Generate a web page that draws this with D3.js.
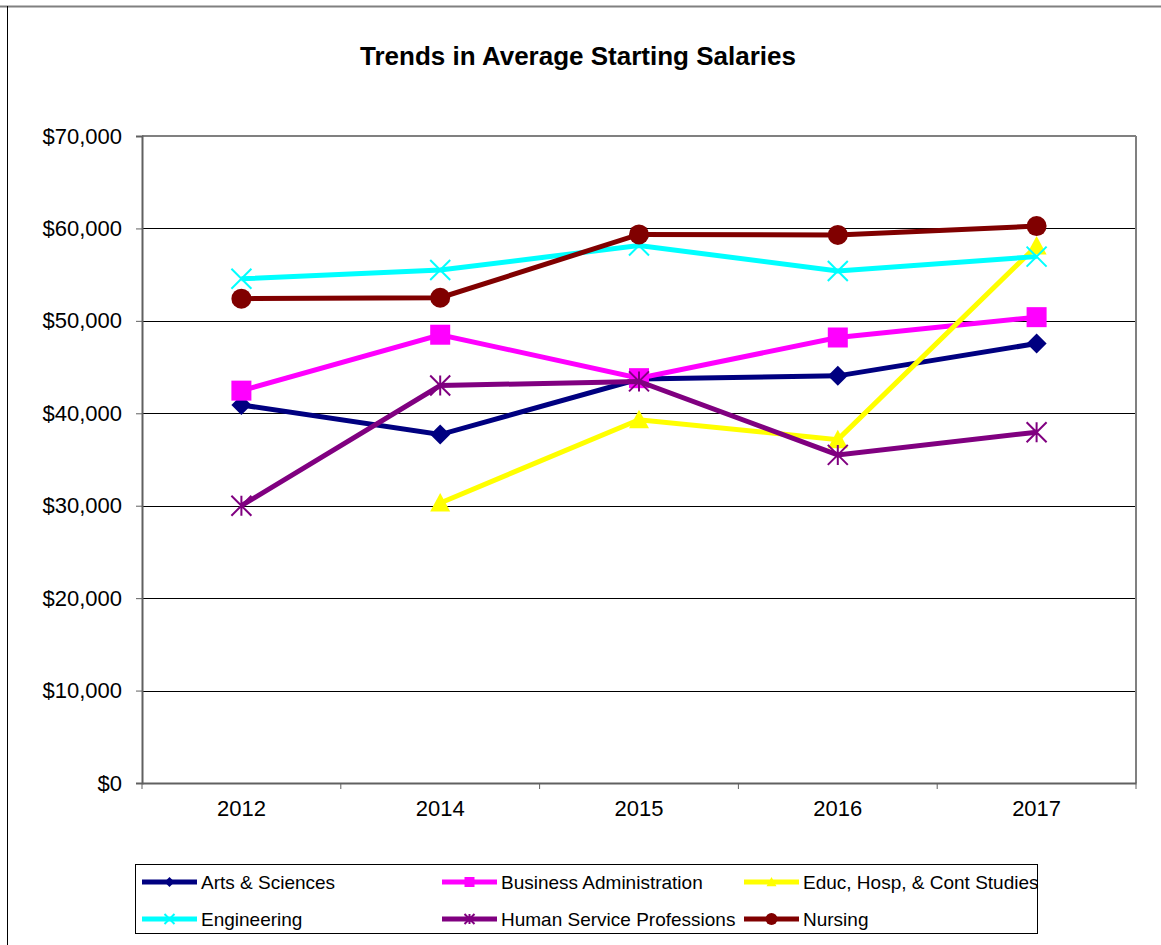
<!DOCTYPE html>
<html>
<head>
<meta charset="utf-8">
<script src="https://cdn.jsdelivr.net/npm/d3@7"></script>
<style>
  body { margin: 0; background: #fff; }
  text { font-family: "Liberation Sans", Arial, sans-serif; }
</style>
</head>
<body>
<div id="chart"></div>
<script>
// chart data
var years = ["2012", "2014", "2015", "2016", "2017"];
var seriesNames = ["Arts & Sciences", "Business Administration", "Educ, Hosp, & Cont Studies",
                   "Engineering", "Human Service Professions", "Nursing"];
var artsSciences = [40900, 37700, 43700, 44050, 47550];
var businessAdmin = [42450, 48500, 43800, 48200, 50400];
var educHosp = [null, 30300, 39300, 37150, 58100];
var engineering = [54550, 55500, 58150, 55400, 56950];
var humanService = [30000, 43000, 43450, 35500, 37950];
var nursing = [52400, 52500, 59350, 59300, 60250];
var yTicks = [0, 10000, 20000, 30000, 40000, 50000, 60000, 70000];

var colors = ["#000080", "#ff00ff", "#ffff00", "#00ffff", "#800080", "#800000"];
var shapes = ["diamond", "square", "triangle", "x", "star", "circle"];
var allValues = [artsSciences, businessAdmin, educHosp, engineering, humanService, nursing];

var series = seriesNames.map(function(name, i) {
    return {name: name, color: colors[i], shape: shapes[i],
            values: allValues[i].map(function(v, j) { return {year: years[j], v: v}; })};
});

var W = 1161, H = 945;
var margin = {top: 136, right: 25, bottom: 162, left: 142};
var width = W - margin.left - margin.right,
    height = H - margin.top - margin.bottom;

var svg = d3.select("#chart").append("svg")
    .attr("width", W)
    .attr("height", H);

// outer frame (top and left edges only visible)
svg.append("line").attr("x1", 0).attr("x2", W).attr("y1", 6.5).attr("y2", 6.5)
    .attr("stroke", "#808080").attr("stroke-width", 2);
svg.append("line").attr("x1", 7.5).attr("x2", 7.5).attr("y1", 6).attr("y2", H)
    .attr("stroke", "#000").attr("stroke-width", 1);

svg.append("text")
    .attr("x", 578).attr("y", 65)
    .attr("text-anchor", "middle")
    .attr("font-size", "26px")
    .attr("font-weight", "bold")
    .text("Trends in Average Starting Salaries");

var g = svg.append("g")
    .attr("transform", "translate(" + margin.left + "," + margin.top + ")");

var xBand = d3.scaleBand().domain(years).range([0, width]);
var x = function(d) { return xBand(d) + xBand.bandwidth() / 2; };
var y = d3.scaleLinear().domain([0, 70000]).range([height, 0]);

// gridlines
g.selectAll(".grid").data(yTicks.filter(function(t) { return t > 0 && t < 70000; }))
    .enter().append("line")
    .attr("x1", 0).attr("x2", width)
    .attr("y1", function(d) { return Math.round(y(d)) + 0.5; })
    .attr("y2", function(d) { return Math.round(y(d)) + 0.5; })
    .attr("stroke", "#000").attr("stroke-width", 1);

// plot border top/right
g.append("line").attr("x1", 0).attr("x2", width).attr("y1", 0).attr("y2", 0)
    .attr("stroke", "#808080").attr("stroke-width", 2);
g.append("line").attr("x1", width).attr("x2", width).attr("y1", 0).attr("y2", height)
    .attr("stroke", "#808080").attr("stroke-width", 2);

// y axis
var yAxis = g.append("g")
    .call(d3.axisLeft(y).tickValues(yTicks).tickSize(6).tickPadding(14)
        .tickFormat(function(d) { return "$" + d3.format(",")(d); }));
yAxis.select(".domain").attr("stroke", "#606060").attr("stroke-width", 2);
yAxis.selectAll(".tick line").attr("stroke", "#606060");
yAxis.selectAll("text").attr("font-size", "22px").attr("fill", "#000")
    .attr("font-family", "'Liberation Sans', Arial, sans-serif");

// x axis with ticks between categories
var xAxis = g.append("g")
    .attr("transform", "translate(0," + height + ")")
    .call(d3.axisBottom(xBand).tickSize(0).tickPadding(17));
xAxis.select(".domain").attr("stroke", "#606060").attr("stroke-width", 2);
xAxis.selectAll("text").attr("font-size", "22px").attr("fill", "#000")
    .attr("font-family", "'Liberation Sans', Arial, sans-serif");
var bounds = years.map(function(d) { return xBand(d); }).concat([width]);
xAxis.selectAll(".sep").data(bounds).enter().append("line")
    .attr("x1", function(d) { return d; }).attr("x2", function(d) { return d; })
    .attr("y1", 0).attr("y2", 6)
    .attr("stroke", "#606060").attr("stroke-width", 1);

// marker drawing
function drawMarker(sel, shape, color, s) {
    if (shape === "diamond") {
        sel.append("path").attr("d", "M0,-" + s + "L" + s + ",0L0," + s + "L-" + s + ",0Z").attr("fill", color);
    } else if (shape === "square") {
        sel.append("rect").attr("x", -s).attr("y", -s).attr("width", 2 * s).attr("height", 2 * s).attr("fill", color);
    } else if (shape === "triangle") {
        sel.append("path").attr("d", "M0,-" + s + "L" + s + "," + (s * 0.85) + "L-" + s + "," + (s * 0.85) + "Z").attr("fill", color);
    } else if (shape === "circle") {
        sel.append("circle").attr("r", s).attr("fill", color);
    } else if (shape === "x") {
        sel.append("path").attr("d", "M-" + s + ",-" + s + "L" + s + "," + s + "M-" + s + "," + s + "L" + s + ",-" + s)
            .attr("stroke", color).attr("stroke-width", 2).attr("fill", "none");
    } else if (shape === "star") {
        sel.append("path").attr("d", "M-" + s + ",-" + s + "L" + s + "," + s + "M-" + s + "," + s + "L" + s + ",-" + s + "M0,-" + s + "L0," + s)
            .attr("stroke", color).attr("stroke-width", 2).attr("fill", "none");
    }
}
var markerSize = {diamond: 10, square: 10, triangle: 10, circle: 10, x: 10, star: 10};

var line = d3.line()
    .defined(function(d) { return d.v !== null; })
    .x(function(d) { return x(d.year); })
    .y(function(d) { return y(d.v); });

series.forEach(function(s) {
    var sg = g.append("g");
    sg.append("path")
        .datum(s.values)
        .attr("fill", "none")
        .attr("stroke", s.color)
        .attr("stroke-width", 5)
        .attr("d", line);
    sg.selectAll(".pt").data(s.values.filter(function(d) { return d.v !== null; }))
        .enter().append("g")
        .attr("transform", function(d) { return "translate(" + x(d.year) + "," + y(d.v) + ")"; })
        .each(function() { drawMarker(d3.select(this), s.shape, s.color, markerSize[s.shape]); });
});

// legend
var legend = svg.append("g");
legend.append("rect")
    .attr("x", 135.5).attr("y", 864.5).attr("width", 902).attr("height", 69)
    .attr("fill", "#fff").attr("stroke", "#000").attr("stroke-width", 1);
var colX = [142, 442, 744], rowY = [882, 919];
series.forEach(function(s, i) {
    var lx = colX[i % 3], ly = rowY[Math.floor(i / 3)];
    var item = legend.append("g").attr("transform", "translate(" + lx + "," + ly + ")");
    item.append("line").attr("x1", 0).attr("x2", 55).attr("y1", 0).attr("y2", 0)
        .attr("stroke", s.color).attr("stroke-width", 5);
    var m = item.append("g").attr("transform", "translate(27.5,0)");
    drawMarker(m, s.shape, s.color, s.shape === "circle" ? 6 : 5);
    item.append("text").attr("x", 59).attr("y", 7)
        .attr("font-size", "19px")
        .text(s.name);
});
</script>
</body>
</html>
